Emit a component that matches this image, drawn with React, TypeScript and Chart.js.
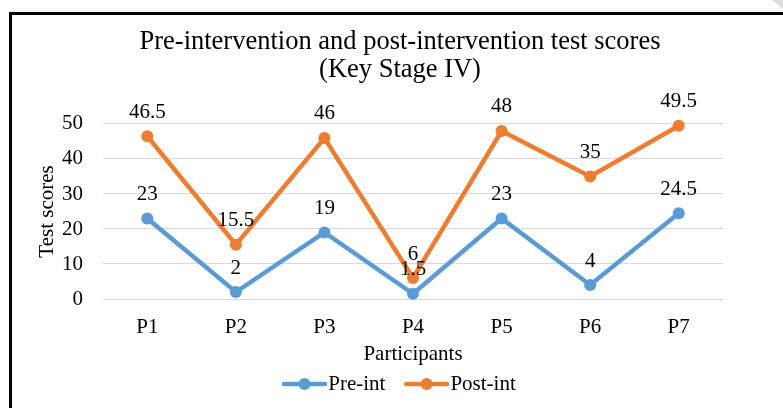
import React, { useEffect, useRef } from "react";
import { Chart, registerables } from "chart.js";

Chart.register(...registerables);

const categories = ["P1", "P2", "P3", "P4", "P5", "P6", "P7"];
const preInt = [23, 2, 19, 1.5, 23, 4, 24.5];
const postInt = [46.5, 15.5, 46, 6, 48, 35, 49.5];
const yTicks = [0, 10, 20, 30, 40, 50];

const BLUE = "#5B9BD5";
const ORANGE = "#ED7D31";
const FONT = "'Liberation Serif', 'Times New Roman', serif";

function legendImage(color: string) {
  const c = document.createElement("canvas");
  c.width = 66;
  c.height = 14;
  const ctx = c.getContext("2d")!;
  ctx.strokeStyle = color;
  ctx.lineWidth = 4.5;
  ctx.lineCap = "round";
  ctx.beginPath();
  ctx.moveTo(23, 7);
  ctx.lineTo(64, 7);
  ctx.stroke();
  ctx.fillStyle = color;
  ctx.beginPath();
  ctx.arc(43.5, 7, 6, 0, Math.PI * 2);
  ctx.fill();
  return c;
}

const dataLabels = {
  id: "dataLabels",
  afterDatasetsDraw(chart: any) {
    const ctx = chart.ctx;
    ctx.save();
    ctx.font = `21px ${FONT}`;
    ctx.fillStyle = "#000";
    ctx.textAlign = "center";
    ctx.textBaseline = "middle";
    chart.data.datasets.forEach((ds: any, i: number) => {
      const meta = chart.getDatasetMeta(i);
      meta.data.forEach((pt: any, j: number) => {
        ctx.fillText(String(ds.data[j]), pt.x, pt.y - 24);
      });
    });
    ctx.restore();
  },
};

const legendShift = {
  id: "legendShift",
  afterLayout(chart: any) {
    if (chart.legend) {
      chart.legend.left -= 7;
      chart.legend.right -= 7;
    }
  },
};

export default function App() {
  const ref = useRef<HTMLCanvasElement>(null);
  useEffect(() => {
    const chart = new Chart(ref.current!, {
      type: "line",
      data: {
        labels: categories,
        datasets: [
          {
            label: "Pre-int",
            data: preInt,
            borderColor: BLUE,
            backgroundColor: BLUE,
            borderWidth: 4.5,
            pointRadius: 6,
            pointBackgroundColor: BLUE,
            pointBorderWidth: 0,
            tension: 0,
            clip: false as any,
          },
          {
            label: "Post-int",
            data: postInt,
            borderColor: ORANGE,
            backgroundColor: ORANGE,
            borderWidth: 4.5,
            pointRadius: 6,
            pointBackgroundColor: ORANGE,
            pointBorderWidth: 0,
            tension: 0,
            clip: false as any,
          },
        ],
      },
      options: {
        animation: false,
        responsive: false,
        layout: { padding: { left: 36, right: 19, top: 28, bottom: 3.5 } },
        elements: { point: { pointStyle: "circle" } },
        plugins: {
          title: {
            display: true,
            text: ["Pre-intervention and post-intervention test scores", "(Key Stage IV)"],
            color: "#000",
            font: { family: FONT, size: 26.5, weight: "normal" as any, lineHeight: 1.06 },
            padding: { top: 0, bottom: 39.8 },
          },
          legend: {
            position: "bottom",
            labels: {
              color: "#000",
              font: { family: FONT, size: 21 },
              usePointStyle: true,
              pointStyleWidth: 47.5,
              padding: 7,
              generateLabels: (chart: any) =>
                chart.data.datasets.map((ds: any, i: number) => ({
                  text: ds.label,
                  fillStyle: ds.borderColor,
                  strokeStyle: ds.borderColor,
                  fontColor: "#000",
                  lineWidth: 0,
                  pointStyle: legendImage(ds.borderColor),
                  datasetIndex: i,
                  hidden: false,
                })),
            },
          },
          tooltip: { enabled: false },
        },
        scales: {
          x: {
            offset: true,
            grid: { display: false, drawTicks: false },
            border: { display: false },
            ticks: { color: "#000", font: { family: FONT, size: 21, lineHeight: 1.1 }, padding: 16.5 },
            title: {
              display: true,
              text: "Participants",
              color: "#000",
              font: { family: FONT, size: 21, lineHeight: 1.1 },
              padding: { top: -11.7, bottom: 0 },
            },
          },
          y: {
            min: 0,
            max: 50,
            afterBuildTicks: (axis: any) => {
              axis.ticks = yTicks.map((v) => ({ value: v }));
            },
            afterFit: (axis: any) => {
              axis.width = 67;
            },
            grid: { color: "#D9D9D9", lineWidth: 1, drawTicks: false },
            border: { display: false },
            ticks: { color: "#000", font: { family: FONT, size: 21 }, padding: 20 },
            title: {
              display: true,
              text: "Test scores",
              color: "#000",
              font: { family: FONT, size: 21, lineHeight: 1.1 },
              padding: { top: 0, bottom: 0 },
            },
          },
          yRight: {
            position: "right",
            display: true,
            grid: { display: false, drawTicks: false },
            border: { display: false },
            ticks: { display: false },
            afterFit: (axis: any) => {
              axis.width = 41;
            },
          },
        },
      },
      plugins: [dataLabels, legendShift],
    });
    return () => chart.destroy();
  }, []);
  return (
    <div style={{ position: "fixed", left: 0, top: 0, width: 783, height: 408, background: "#fff" }}>
      <canvas ref={ref} width={783} height={408} style={{ display: "block" }} />
      <div
        style={{
          position: "absolute",
          left: 9,
          top: 12,
          width: 774,
          height: 396,
          borderTop: "3px solid #000",
          borderLeft: "3px solid #000",
          boxSizing: "border-box",
          pointerEvents: "none",
        }}
      />
      <div
        style={{
          position: "absolute",
          left: 772,
          top: 0,
          width: 11,
          height: 9,
          background: "#DDDDDD",
          clipPath: "polygon(0 0, 100% 0, 100% 100%)",
          pointerEvents: "none",
        }}
      />
    </div>
  );
}
